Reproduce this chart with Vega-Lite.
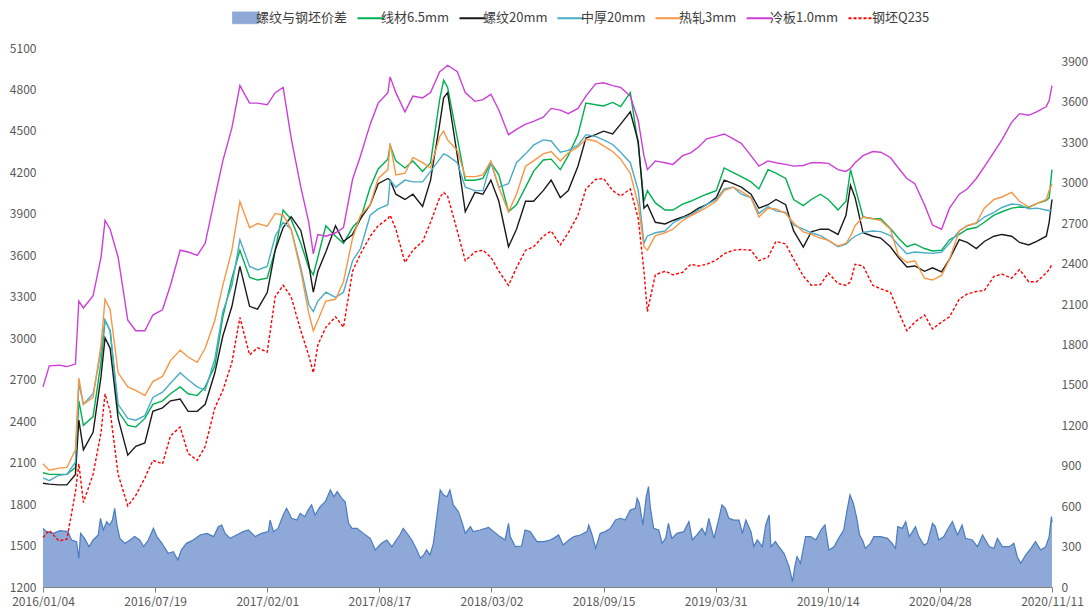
{
"$schema":"https://vega.github.io/schema/vega-lite/v6.json",
"width":1009,"height":539,
"autosize":{"type":"none"},
"padding":{"left":43,"top":48,"right":39,"bottom":20},
"background":"white",
"config":{"view":{"stroke":null},"font":"Noto Sans CJK SC","axis":{"labelFont":"Noto Sans CJK SC","labelFontSize":12,"labelColor":"#595959"}},
"datasets":{
"names":[{"key":"g","series":"线材6.5mm"},{"key":"k","series":"螺纹20mm"},{"key":"b","series":"中厚20mm"},{"key":"o","series":"热轧3mm"},{"key":"m","series":"冷板1.0mm"},{"key":"r","series":"钢坯Q235"}],
"area":[
{"d":"2016-01-04","v":435},{"d":"2016-01-10","v":411},{"d":"2016-01-22","v":398},{"d":"2016-02-03","v":418},{"d":"2016-02-17","v":411},{"d":"2016-02-23","v":349},{"d":"2016-03-03","v":337},{"d":"2016-03-07","v":213},{"d":"2016-03-10","v":398},{"d":"2016-03-17","v":361},{"d":"2016-03-25","v":299},{"d":"2016-04-01","v":349},{"d":"2016-04-10","v":386},{"d":"2016-04-14","v":510},{"d":"2016-04-19","v":423},{"d":"2016-04-25","v":485},{"d":"2016-04-30","v":460},{"d":"2016-05-05","v":497},{"d":"2016-05-09","v":584},{"d":"2016-05-13","v":460},{"d":"2016-05-18","v":361},{"d":"2016-05-27","v":324},{"d":"2016-06-05","v":349},{"d":"2016-06-13","v":374},{"d":"2016-06-22","v":349},{"d":"2016-06-29","v":299},{"d":"2016-07-07","v":349},{"d":"2016-07-16","v":435},{"d":"2016-07-22","v":374},{"d":"2016-07-31","v":324},{"d":"2016-08-11","v":250},{"d":"2016-08-20","v":262},{"d":"2016-08-28","v":200},{"d":"2016-09-03","v":275},{"d":"2016-09-12","v":324},{"d":"2016-09-24","v":349},{"d":"2016-10-06","v":386},{"d":"2016-10-18","v":398},{"d":"2016-10-30","v":374},{"d":"2016-11-07","v":448},{"d":"2016-11-13","v":460},{"d":"2016-11-19","v":398},{"d":"2016-11-28","v":361},{"d":"2016-12-09","v":386},{"d":"2016-12-21","v":411},{"d":"2016-12-30","v":423},
{"d":"2017-01-11","v":374},{"d":"2017-01-22","v":398},{"d":"2017-02-03","v":411},{"d":"2017-02-06","v":497},{"d":"2017-02-12","v":411},{"d":"2017-02-20","v":435},{"d":"2017-03-01","v":534},{"d":"2017-03-07","v":584},{"d":"2017-03-16","v":510},{"d":"2017-03-25","v":497},{"d":"2017-03-31","v":547},{"d":"2017-04-08","v":522},{"d":"2017-04-14","v":572},{"d":"2017-04-20","v":609},{"d":"2017-04-26","v":534},{"d":"2017-05-05","v":596},{"d":"2017-05-14","v":633},{"d":"2017-05-23","v":720},{"d":"2017-05-29","v":670},{"d":"2017-06-04","v":708},{"d":"2017-06-12","v":658},{"d":"2017-06-18","v":633},{"d":"2017-06-24","v":473},{"d":"2017-06-30","v":435},{"d":"2017-07-09","v":435},{"d":"2017-07-20","v":398},{"d":"2017-08-01","v":361},{"d":"2017-08-10","v":275},{"d":"2017-08-15","v":299},{"d":"2017-08-21","v":324},{"d":"2017-08-30","v":349},{"d":"2017-09-08","v":299},{"d":"2017-09-14","v":337},{"d":"2017-09-22","v":386},{"d":"2017-09-28","v":435},{"d":"2017-10-07","v":386},{"d":"2017-10-13","v":349},{"d":"2017-10-22","v":275},{"d":"2017-10-28","v":213},{"d":"2017-11-03","v":238},{"d":"2017-11-08","v":275},{"d":"2017-11-14","v":238},{"d":"2017-11-20","v":324},{"d":"2017-11-26","v":522},{"d":"2017-12-02","v":720},{"d":"2017-12-08","v":683},{"d":"2017-12-14","v":670},{"d":"2017-12-19","v":720},{"d":"2017-12-25","v":609},
{"d":"2018-01-03","v":559},{"d":"2018-01-09","v":485},{"d":"2018-01-15","v":398},{"d":"2018-01-24","v":448},{"d":"2018-01-29","v":411},{"d":"2018-02-10","v":423},{"d":"2018-02-25","v":443},{"d":"2018-03-06","v":411},{"d":"2018-03-17","v":374},{"d":"2018-03-26","v":349},{"d":"2018-04-01","v":473},{"d":"2018-04-04","v":374},{"d":"2018-04-13","v":299},{"d":"2018-04-24","v":304},{"d":"2018-04-30","v":423},{"d":"2018-05-09","v":411},{"d":"2018-05-21","v":337},{"d":"2018-06-02","v":337},{"d":"2018-06-13","v":349},{"d":"2018-06-19","v":361},{"d":"2018-06-28","v":386},{"d":"2018-07-06","v":312},{"d":"2018-07-16","v":349},{"d":"2018-07-25","v":374},{"d":"2018-08-05","v":386},{"d":"2018-08-17","v":411},{"d":"2018-08-20","v":460},{"d":"2018-08-26","v":386},{"d":"2018-09-01","v":287},{"d":"2018-09-09","v":398},{"d":"2018-09-18","v":411},{"d":"2018-09-27","v":435},{"d":"2018-10-06","v":497},{"d":"2018-10-15","v":510},{"d":"2018-10-23","v":497},{"d":"2018-11-01","v":572},{"d":"2018-11-10","v":584},{"d":"2018-11-13","v":658},{"d":"2018-11-17","v":621},{"d":"2018-11-23","v":460},{"d":"2018-11-29","v":670},{"d":"2018-12-03","v":745},{"d":"2018-12-06","v":596},{"d":"2018-12-12","v":435},{"d":"2018-12-21","v":423},{"d":"2018-12-27","v":324},
{"d":"2019-01-02","v":361},{"d":"2019-01-07","v":473},{"d":"2019-01-13","v":361},{"d":"2019-01-22","v":398},{"d":"2019-02-03","v":411},{"d":"2019-02-12","v":485},{"d":"2019-02-18","v":349},{"d":"2019-02-26","v":386},{"d":"2019-03-07","v":435},{"d":"2019-03-13","v":386},{"d":"2019-03-19","v":510},{"d":"2019-03-28","v":361},{"d":"2019-04-05","v":497},{"d":"2019-04-11","v":609},{"d":"2019-04-17","v":584},{"d":"2019-04-23","v":510},{"d":"2019-05-02","v":497},{"d":"2019-05-11","v":497},{"d":"2019-05-17","v":398},{"d":"2019-05-23","v":497},{"d":"2019-06-01","v":411},{"d":"2019-06-06","v":299},{"d":"2019-06-12","v":349},{"d":"2019-06-21","v":299},{"d":"2019-06-27","v":460},{"d":"2019-07-03","v":534},{"d":"2019-07-06","v":299},{"d":"2019-07-14","v":337},{"d":"2019-07-20","v":299},{"d":"2019-07-29","v":250},{"d":"2019-08-07","v":151},{"d":"2019-08-13","v":40},{"d":"2019-08-17","v":151},{"d":"2019-08-21","v":225},{"d":"2019-08-27","v":176},{"d":"2019-09-05","v":374},{"d":"2019-09-14","v":374},{"d":"2019-09-23","v":349},{"d":"2019-10-02","v":423},{"d":"2019-10-09","v":460},{"d":"2019-10-16","v":275},{"d":"2019-10-25","v":299},{"d":"2019-11-02","v":361},{"d":"2019-11-11","v":423},{"d":"2019-11-17","v":572},{"d":"2019-11-22","v":683},{"d":"2019-11-28","v":621},{"d":"2019-12-04","v":510},{"d":"2019-12-09","v":386},{"d":"2019-12-15","v":337},{"d":"2019-12-19","v":287},{"d":"2019-12-28","v":324},
{"d":"2020-01-03","v":374},{"d":"2020-01-15","v":374},{"d":"2020-01-27","v":361},{"d":"2020-02-04","v":324},{"d":"2020-02-10","v":287},{"d":"2020-02-14","v":448},{"d":"2020-02-22","v":435},{"d":"2020-02-28","v":485},{"d":"2020-03-05","v":374},{"d":"2020-03-11","v":411},{"d":"2020-03-16","v":448},{"d":"2020-03-22","v":374},{"d":"2020-03-31","v":312},{"d":"2020-04-06","v":324},{"d":"2020-04-15","v":473},{"d":"2020-04-20","v":448},{"d":"2020-04-26","v":349},{"d":"2020-05-05","v":374},{"d":"2020-05-11","v":423},{"d":"2020-05-20","v":485},{"d":"2020-05-29","v":386},{"d":"2020-06-06","v":460},{"d":"2020-06-12","v":361},{"d":"2020-06-24","v":349},{"d":"2020-07-03","v":299},{"d":"2020-07-12","v":386},{"d":"2020-07-24","v":299},{"d":"2020-08-01","v":287},{"d":"2020-08-07","v":361},{"d":"2020-08-16","v":299},{"d":"2020-08-28","v":299},{"d":"2020-09-05","v":324},{"d":"2020-09-11","v":225},{"d":"2020-09-17","v":176},{"d":"2020-09-26","v":238},{"d":"2020-10-05","v":287},{"d":"2020-10-13","v":337},{"d":"2020-10-22","v":275},{"d":"2020-10-31","v":299},{"d":"2020-11-06","v":374},{"d":"2020-11-10","v":522},{"d":"2020-11-11","v":480}
],
"prices":[
{"d":"2016-01-04","g":2027,"k":1951,"b":1989,"o":2091,"m":2648,"r":1559},
{"d":"2016-01-15","g":2015,"k":1944,"b":1969,"o":2045,"m":2800,"r":1609},
{"d":"2016-02-01","g":2015,"k":1939,"b":2009,"o":2060,"m":2805,"r":1533},
{"d":"2016-02-15","g":2015,"k":1939,"b":2015,"o":2065,"m":2795,"r":1546},
{"d":"2016-03-01","g":2065,"k":2015,"b":2103,"o":2192,"m":2813,"r":1888},
{"d":"2016-03-07","g":2547,"k":2408,"b":2674,"o":2712,"m":3269,"r":2091},
{"d":"2016-03-15","g":2370,"k":2192,"b":2522,"o":2522,"m":3219,"r":1812},
{"d":"2016-04-01","g":2433,"k":2319,"b":2598,"o":2572,"m":3307,"r":2015},
{"d":"2016-04-15","g":2826,"k":2724,"b":2902,"o":2952,"m":3586,"r":2319},
{"d":"2016-04-22","g":3130,"k":3003,"b":3130,"o":3282,"m":3852,"r":2597},
{"d":"2016-05-01","g":3054,"k":2927,"b":3054,"o":3206,"m":3789,"r":2471},
{"d":"2016-05-15","g":2471,"k":2420,"b":2522,"o":2750,"m":3586,"r":2015},
{"d":"2016-06-01","g":2370,"k":2154,"b":2420,"o":2648,"m":3130,"r":1787},
{"d":"2016-06-15","g":2357,"k":2218,"b":2407,"o":2623,"m":3054,"r":1863},
{"d":"2016-07-01","g":2420,"k":2243,"b":2440,"o":2585,"m":3054,"r":1989},
{"d":"2016-07-15","g":2522,"k":2471,"b":2572,"o":2686,"m":3168,"r":2116},
{"d":"2016-08-01","g":2547,"k":2496,"b":2610,"o":2724,"m":3206,"r":2091},
{"d":"2016-08-15","g":2598,"k":2547,"b":2674,"o":2838,"m":3383,"r":2294},
{"d":"2016-09-01","g":2648,"k":2560,"b":2750,"o":2914,"m":3637,"r":2357},
{"d":"2016-09-15","g":2598,"k":2471,"b":2699,"o":2864,"m":3624,"r":2167},
{"d":"2016-10-01","g":2585,"k":2471,"b":2648,"o":2826,"m":3599,"r":2116},
{"d":"2016-10-15","g":2648,"k":2522,"b":2623,"o":2927,"m":3687,"r":2218},
{"d":"2016-11-01","g":2800,"k":2750,"b":2851,"o":3130,"m":4017,"r":2496},
{"d":"2016-11-15","g":3155,"k":3016,"b":3193,"o":3383,"m":4283,"r":2623},
{"d":"2016-12-01","g":3434,"k":3231,"b":3383,"o":3637,"m":4524,"r":2826},
{"d":"2016-12-15","g":3637,"k":3520,"b":3713,"o":3990,"m":4828,"r":3150},
{"d":"2017-01-01","g":3440,"k":3231,"b":3520,"o":3800,"m":4701,"r":2880},
{"d":"2017-01-15","g":3421,"k":3210,"b":3494,"o":3830,"m":4701,"r":2930},
{"d":"2017-02-01","g":3434,"k":3330,"b":3520,"o":3810,"m":4689,"r":2900},
{"d":"2017-02-15","g":3637,"k":3637,"b":3738,"o":3903,"m":4777,"r":3300},
{"d":"2017-03-01","g":3928,"k":3801,"b":3839,"o":3890,"m":4815,"r":3383},
{"d":"2017-03-15","g":3860,"k":3880,"b":3790,"o":3790,"m":4450,"r":3300},
{"d":"2017-04-01","g":3687,"k":3780,"b":3510,"o":3485,"m":4093,"r":3054},
{"d":"2017-04-15","g":3510,"k":3535,"b":3244,"o":3181,"m":3839,"r":2876},
{"d":"2017-04-23","g":3459,"k":3333,"b":3193,"o":3054,"m":3611,"r":2750},
{"d":"2017-05-01","g":3586,"k":3485,"b":3269,"o":3130,"m":3750,"r":2952},
{"d":"2017-05-15","g":3814,"k":3624,"b":3333,"o":3269,"m":3738,"r":3079},
{"d":"2017-06-01","g":3738,"k":3814,"b":3295,"o":3282,"m":3763,"r":3155},
{"d":"2017-06-15","g":3687,"k":3700,"b":3333,"o":3409,"m":3800,"r":3079},
{"d":"2017-07-01","g":3801,"k":3751,"b":3561,"o":3725,"m":4150,"r":3485},
{"d":"2017-07-15","g":3865,"k":3865,"b":3649,"o":3890,"m":4321,"r":3611},
{"d":"2017-08-01","g":4093,"k":3966,"b":3890,"o":3966,"m":4549,"r":3738},
{"d":"2017-08-15","g":4225,"k":4118,"b":3936,"o":4156,"m":4701,"r":3814},
{"d":"2017-09-01","g":4296,"k":4156,"b":3966,"o":4220,"m":4777,"r":3865},
{"d":"2017-09-05","g":4397,"k":4144,"b":4144,"o":4410,"m":4891,"r":3890},
{"d":"2017-09-15","g":4283,"k":4042,"b":4093,"o":4182,"m":4777,"r":3789},
{"d":"2017-10-01","g":4232,"k":4004,"b":4144,"o":4194,"m":4638,"r":3548},
{"d":"2017-10-15","g":4283,"k":4042,"b":4131,"o":4308,"m":4752,"r":3637},
{"d":"2017-11-01","g":4207,"k":3953,"b":4131,"o":4270,"m":4739,"r":3700},
{"d":"2017-11-15","g":4270,"k":4144,"b":4207,"o":4232,"m":4777,"r":3839},
{"d":"2017-12-01","g":4727,"k":4549,"b":4296,"o":4460,"m":4929,"r":4017},
{"d":"2017-12-08","g":4866,"k":4739,"b":4334,"o":4498,"m":4950,"r":4055},
{"d":"2017-12-15","g":4815,"k":4777,"b":4321,"o":4435,"m":4975,"r":4029},
{"d":"2018-01-01","g":4448,"k":4321,"b":4270,"o":4359,"m":4929,"r":3776},
{"d":"2018-01-15","g":4143,"k":3915,"b":4093,"o":4169,"m":4777,"r":3561},
{"d":"2018-02-01","g":4143,"k":4055,"b":4068,"o":4169,"m":4714,"r":3624},
{"d":"2018-02-15","g":4156,"k":4042,"b":4068,"o":4182,"m":4726,"r":3637},
{"d":"2018-03-01","g":4270,"k":4144,"b":4270,"o":4283,"m":4765,"r":3586},
{"d":"2018-03-15","g":4182,"k":3991,"b":4093,"o":4093,"m":4651,"r":3485},
{"d":"2018-04-01","g":3915,"k":3662,"b":4118,"o":3915,"m":4473,"r":3383},
{"d":"2018-04-15","g":3966,"k":3789,"b":4270,"o":4042,"m":4511,"r":3510},
{"d":"2018-05-01","g":4093,"k":3991,"b":4334,"o":4245,"m":4549,"r":3637},
{"d":"2018-05-15","g":4207,"k":3991,"b":4397,"o":4283,"m":4569,"r":3662},
{"d":"2018-06-01","g":4290,"k":4068,"b":4435,"o":4334,"m":4600,"r":3738},
{"d":"2018-06-15","g":4296,"k":4144,"b":4427,"o":4351,"m":4663,"r":3776},
{"d":"2018-07-01","g":4220,"k":4017,"b":4346,"o":4283,"m":4651,"r":3675},
{"d":"2018-07-15","g":4321,"k":4068,"b":4359,"o":4341,"m":4625,"r":3763},
{"d":"2018-08-01","g":4473,"k":4245,"b":4397,"o":4384,"m":4663,"r":3890},
{"d":"2018-08-15","g":4701,"k":4448,"b":4473,"o":4440,"m":4752,"r":4080},
{"d":"2018-09-01","g":4689,"k":4473,"b":4460,"o":4427,"m":4841,"r":4149},
{"d":"2018-09-15","g":4681,"k":4498,"b":4435,"o":4392,"m":4848,"r":4156},
{"d":"2018-10-01","g":4706,"k":4478,"b":4402,"o":4351,"m":4828,"r":4068},
{"d":"2018-10-15","g":4676,"k":4549,"b":4346,"o":4296,"m":4815,"r":4029},
{"d":"2018-11-01","g":4777,"k":4638,"b":4270,"o":4194,"m":4752,"r":4080},
{"d":"2018-11-15","g":4397,"k":4422,"b":4068,"o":3966,"m":4574,"r":3865},
{"d":"2018-11-25","g":3991,"k":3941,"b":3687,"o":3662,"m":4321,"r":3485},
{"d":"2018-12-01","g":4068,"k":3966,"b":3740,"o":3637,"m":4220,"r":3193},
{"d":"2018-12-15","g":3979,"k":3839,"b":3763,"o":3743,"m":4283,"r":3459},
{"d":"2019-01-01","g":3928,"k":3827,"b":3776,"o":3763,"m":4270,"r":3485},
{"d":"2019-01-15","g":3928,"k":3852,"b":3834,"o":3789,"m":4258,"r":3459},
{"d":"2019-02-01","g":3971,"k":3877,"b":3870,"o":3852,"m":4321,"r":3477},
{"d":"2019-02-15","g":3991,"k":3903,"b":3890,"o":3885,"m":4341,"r":3535},
{"d":"2019-03-01","g":4017,"k":3941,"b":3928,"o":3915,"m":4384,"r":3523},
{"d":"2019-03-15","g":4042,"k":3966,"b":3966,"o":3946,"m":4443,"r":3535},
{"d":"2019-04-01","g":4068,"k":4017,"b":4004,"o":3991,"m":4461,"r":3566},
{"d":"2019-04-15","g":4232,"k":4144,"b":4080,"o":4068,"m":4478,"r":3611},
{"d":"2019-05-01","g":4199,"k":4118,"b":4093,"o":4093,"m":4443,"r":3637},
{"d":"2019-05-15","g":4169,"k":4093,"b":4042,"o":4063,"m":4410,"r":3642},
{"d":"2019-06-01","g":4131,"k":4042,"b":4017,"o":4017,"m":4321,"r":3637},
{"d":"2019-06-15","g":4080,"k":3941,"b":3903,"o":3877,"m":4245,"r":3561},
{"d":"2019-07-01","g":4220,"k":3966,"b":3953,"o":3941,"m":4283,"r":3586},
{"d":"2019-07-15","g":4194,"k":4004,"b":3921,"o":3936,"m":4270,"r":3700},
{"d":"2019-08-01","g":4156,"k":3966,"b":3910,"o":3903,"m":4258,"r":3682},
{"d":"2019-08-15","g":4004,"k":3776,"b":3819,"o":3834,"m":4245,"r":3573},
{"d":"2019-09-01","g":3960,"k":3660,"b":3789,"o":3770,"m":4250,"r":3450},
{"d":"2019-09-15","g":4004,"k":3769,"b":3763,"o":3751,"m":4270,"r":3383},
{"d":"2019-10-01","g":4042,"k":3789,"b":3743,"o":3725,"m":4270,"r":3388},
{"d":"2019-10-15","g":4004,"k":3789,"b":3708,"o":3708,"m":4265,"r":3472},
{"d":"2019-11-01","g":3928,"k":3751,"b":3662,"o":3667,"m":4220,"r":3396},
{"d":"2019-11-15","g":3991,"k":3890,"b":3680,"o":3687,"m":4207,"r":3383},
{"d":"2019-11-23","g":4220,"k":4106,"b":3713,"o":3738,"m":4230,"r":3409},
{"d":"2019-12-01","g":4093,"k":4017,"b":3738,"o":3814,"m":4270,"r":3535},
{"d":"2019-12-15","g":3877,"k":3763,"b":3766,"o":3877,"m":4321,"r":3523},
{"d":"2020-01-01","g":3865,"k":3738,"b":3776,"o":3865,"m":4351,"r":3383},
{"d":"2020-01-15","g":3865,"k":3725,"b":3771,"o":3852,"m":4346,"r":3358},
{"d":"2020-02-01","g":3794,"k":3662,"b":3743,"o":3789,"m":4308,"r":3333},
{"d":"2020-02-15","g":3725,"k":3586,"b":3675,"o":3599,"m":4232,"r":3193},
{"d":"2020-03-01","g":3662,"k":3515,"b":3611,"o":3548,"m":4156,"r":3054},
{"d":"2020-03-15","g":3682,"k":3523,"b":3624,"o":3561,"m":4118,"r":3117},
{"d":"2020-04-01","g":3649,"k":3484,"b":3619,"o":3434,"m":3966,"r":3168},
{"d":"2020-04-15","g":3631,"k":3510,"b":3614,"o":3421,"m":3819,"r":3067},
{"d":"2020-05-01","g":3637,"k":3480,"b":3624,"o":3454,"m":3789,"r":3117},
{"d":"2020-05-15","g":3713,"k":3573,"b":3687,"o":3573,"m":3941,"r":3155},
{"d":"2020-06-01","g":3751,"k":3713,"b":3776,"o":3776,"m":4042,"r":3282},
{"d":"2020-06-15","g":3789,"k":3693,"b":3814,"o":3814,"m":4080,"r":3320},
{"d":"2020-07-01","g":3801,"k":3649,"b":3832,"o":3834,"m":4156,"r":3338},
{"d":"2020-07-15","g":3839,"k":3700,"b":3877,"o":3941,"m":4240,"r":3345},
{"d":"2020-08-01","g":3890,"k":3738,"b":3910,"o":4004,"m":4346,"r":3447},
{"d":"2020-08-15","g":3915,"k":3751,"b":3946,"o":4022,"m":4435,"r":3464},
{"d":"2020-09-01","g":3941,"k":3738,"b":3971,"o":4055,"m":4562,"r":3434},
{"d":"2020-09-15","g":3949,"k":3693,"b":3966,"o":3991,"m":4625,"r":3497},
{"d":"2020-10-01","g":3946,"k":3675,"b":3936,"o":3949,"m":4613,"r":3409},
{"d":"2020-10-15","g":3974,"k":3700,"b":3941,"o":3974,"m":4638,"r":3409},
{"d":"2020-11-01","g":3997,"k":3738,"b":3928,"o":4004,"m":4676,"r":3472},
{"d":"2020-11-06","g":4017,"k":3839,"b":3923,"o":4068,"m":4720,"r":3497},
{"d":"2020-11-11","g":4220,"k":4004,"b":3928,"o":4113,"m":4828,"r":3535}
]},
"layer":[
{"data":{"name":"area","format":{"parse":{"d":"date:'%Y-%m-%d'"}}},
 "encoding":{
  "x":{"field":"d","type":"temporal","scale":{"domain":[{"year":2016,"month":1,"date":4},{"year":2020,"month":11,"date":11}]},
   "axis":{"title":null,"grid":false,"format":"%Y/%m/%d","labelFlush":false,"labelOverlap":false,"domainColor":"#808080","tickColor":"#808080","tickSize":5,"labelPadding":4,
    "values":[{"year":2016,"month":1,"date":4},{"year":2016,"month":7,"date":19},{"year":2017,"month":2,"date":1},{"year":2017,"month":8,"date":17},{"year":2018,"month":3,"date":2},{"year":2018,"month":9,"date":15},{"year":2019,"month":3,"date":31},{"year":2019,"month":10,"date":14},{"year":2020,"month":4,"date":28},{"year":2020,"month":11,"date":11}]}},
  "y":{"field":"v","type":"quantitative","scale":{"domain":[0,4000],"nice":false,"zero":false},
   "axis":{"orient":"right","title":null,"grid":false,"domain":false,"ticks":false,"labelPadding":9,"format":"d","values":[0,300,600,900,1200,1500,1800,2100,2400,2700,3000,3300,3600,3900]}}},
 "layer":[
  {"mark":{"type":"area","color":"#8EA9D8","opacity":1}},
  {"mark":{"type":"line","color":"#4A7CC0","strokeWidth":1.2}}
 ]},
{"data":{"name":"prices","format":{"parse":{"d":"date:'%Y-%m-%d'"}}},
 "transform":[
  {"fold":["g","k","b","o","m","r"],"as":["key","value"]},
  {"lookup":"key","from":{"data":{"name":"names"},"key":"key","fields":["series"]}}
 ],
 "encoding":{
  "x":{"field":"d","type":"temporal"},
  "y":{"field":"value","type":"quantitative","scale":{"domain":[1200,5100],"nice":false,"zero":false},
   "axis":{"orient":"left","title":null,"grid":false,"domain":false,"ticks":false,"labelPadding":7,"format":"d","values":[1200,1500,1800,2100,2400,2700,3000,3300,3600,3900,4200,4500,4800,5100]}},
  "color":{"field":"series","type":"nominal",
   "scale":{"domain":["螺纹与钢坯价差","线材6.5mm","螺纹20mm","中厚20mm","热轧3mm","冷板1.0mm","钢坯Q235"],"range":["#8EA9D8","#00B050","#1A1A1A","#4BACC6","#F79646","#CC3FD6","#FF0000"]},
   "legend":{"orient":"none","legendX":196,"legendY":-37,"direction":"horizontal","title":null,"symbolType":"stroke","symbolSize":676,"symbolStrokeWidth":2,
    "labelFont":"Noto Sans CJK SC","labelFontSize":13,"labelColor":"#404040","labelOffset":4,"columnPadding":5,"padding":0,
    "encode":{"symbols":{"update":{
     "shape":{"signal":"datum.value === '螺纹与钢坯价差' ? 'M-1,-0.45H1V0.45H-1Z' : 'stroke'"},
     "fill":{"signal":"datum.value === '螺纹与钢坯价差' ? '#8EA9D8' : 'transparent'"},
     "stroke":{"signal":"datum.value === '螺纹与钢坯价差' ? '#4A7CC0' : scale('color', datum.value)"},
     "strokeWidth":{"signal":"datum.value === '螺纹与钢坯价差' ? 1 : 2"},
     "strokeDash":{"signal":"datum.value === '钢坯Q235' ? [3,2] : [1,0]"}}}}}}},
 "layer":[
  {"transform":[{"filter":"datum.key !== 'r'"}],"mark":{"type":"line","strokeWidth":1.4}},
  {"transform":[{"filter":"datum.key === 'r'"}],"mark":{"type":"line","strokeWidth":1.4,"strokeDash":[3,2]}}
 ]}
],
"resolve":{"scale":{"y":"independent"}}
}
